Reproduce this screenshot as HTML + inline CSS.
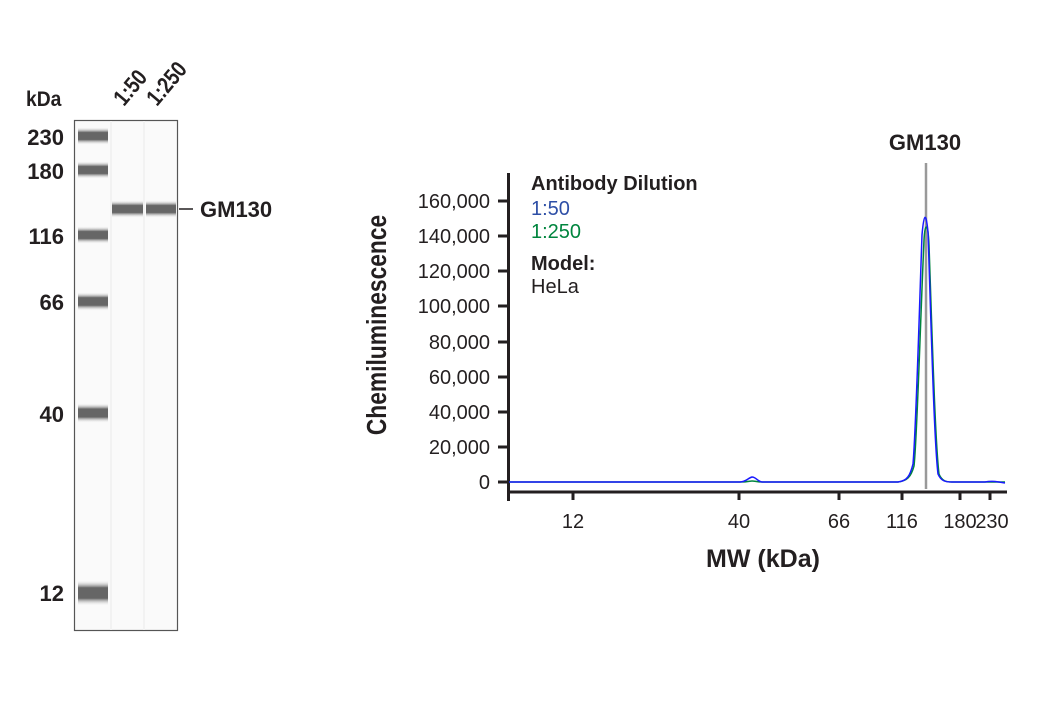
<!DOCTYPE html>
<html><head><meta charset="utf-8"><style>
html,body{margin:0;padding:0;background:#fff}
svg text{font-family:"Liberation Sans Narrow","Liberation Sans",sans-serif;fill:#231f20}
</style></head><body>
<svg width="1040" height="700" viewBox="0 0 1040 700" xmlns="http://www.w3.org/2000/svg">
<defs>
<linearGradient id="bg" x1="0" y1="0" x2="0" y2="1">
<stop offset="0" stop-color="#fff" stop-opacity="0"/>
<stop offset="0.3" stop-color="#666"/>
<stop offset="0.7" stop-color="#666"/>
<stop offset="1" stop-color="#fff" stop-opacity="0"/>
</linearGradient>
</defs>
<text x="26" y="106" font-size="21" font-weight="bold" transform="translate(26,0) scale(0.92,1) translate(-26,0)">kDa</text>
<text transform="translate(124,107) rotate(-50) scale(0.9,1.1)" font-size="21" font-weight="bold">1:50</text>
<text transform="translate(157,107) rotate(-50) scale(0.9,1.1)" font-size="21" font-weight="bold">1:250</text>
<rect x="74.5" y="120.5" width="103" height="510" fill="#fafafa" stroke="#555" stroke-width="1.2"/>
<rect x="110" y="121" width="2" height="509" fill="#f2f2f2"/>
<rect x="143" y="121" width="2" height="509" fill="#f2f2f2"/>
<g fill="url(#bg)">
<rect x="78" y="127" width="30" height="18"/>
<rect x="78" y="161" width="30" height="18"/>
<rect x="78" y="226" width="30" height="18"/>
<rect x="78" y="292" width="30" height="19"/>
<rect x="78" y="403" width="30" height="20"/>
<rect x="78" y="580" width="30" height="26"/>
<rect x="112" y="200" width="31" height="18"/>
<rect x="146" y="200" width="30" height="18"/>
</g>
<g font-size="22" font-weight="bold" text-anchor="end">
<text x="64" y="145">230</text>
<text x="64" y="179">180</text>
<text x="64" y="244">116</text>
<text x="64" y="310">66</text>
<text x="64" y="422">40</text>
<text x="64" y="601">12</text>
</g>
<line x1="179" y1="209" x2="193" y2="209" stroke="#231f20" stroke-width="1.5"/>
<text x="200" y="217" font-size="22" font-weight="bold">GM130</text>

<text transform="translate(386,325) rotate(-90) scale(0.95,1.15)" font-size="24" font-weight="bold" text-anchor="middle">Chemiluminescence</text>
<g stroke="#231f20" stroke-width="3" fill="none">
<path d="M508.5 173 V501 M507 492 H1007"/>
<path d="M498 201 H508 M498 236 H508 M498 271 H508 M498 306 H508 M498 342 H508 M498 377 H508 M498 412 H508 M498 447 H508 M498 482 H508"/>
<path d="M573 492 V500 M739 492 V500 M839 492 V500 M902 492 V500 M960 492 V500 M990 492 V500"/>
</g>
<g font-size="20" text-anchor="end">
<text x="490" y="208">160,000</text>
<text x="490" y="243">140,000</text>
<text x="490" y="278">120,000</text>
<text x="490" y="313">100,000</text>
<text x="490" y="349">80,000</text>
<text x="490" y="384">60,000</text>
<text x="490" y="419">40,000</text>
<text x="490" y="454">20,000</text>
<text x="490" y="489">0</text>
</g>
<g font-size="20" text-anchor="middle">
<text x="573" y="528">12</text>
<text x="739" y="528">40</text>
<text x="839" y="528">66</text>
<text x="902" y="528">116</text>
<text x="960" y="528">180</text>
<text x="992" y="528">230</text>
</g>
<text x="763" y="567" font-size="25" font-weight="bold" text-anchor="middle">MW (kDa)</text>
<text x="531" y="190" font-size="20" font-weight="bold">Antibody Dilution</text>
<text x="531" y="215" font-size="20" style="fill:#2e4fa6">1:50</text>
<text x="531" y="238" font-size="20" style="fill:#00853e">1:250</text>
<text x="531" y="270" font-size="20" font-weight="bold">Model:</text>
<text x="531" y="293" font-size="20">HeLa</text>
<text x="925" y="150" font-size="22" font-weight="bold" text-anchor="middle">GM130</text>
<line x1="926" y1="163" x2="926" y2="489" stroke="#999" stroke-width="2.5"/>
<path d="M509 482 H740 C748 482 750 481 752 481 C755 481 757 482 762 482 H898 C907 481 911 477 914 466 C917 440 920 330 924 240 C925 222 928 222 929 245 C932 330 935 440 939 474 C942 481 946 482 952 482 H1005" fill="none" stroke="#00853e" stroke-width="1.5"/>
<path d="M509 482 H740 C746 482 748 478 752 477 C756 477 757 481 762 482 H898 C907 481 910 476 913 464 C916 430 919 320 922 235 C924 212 926 212 928 232 C931 320 934 440 938 474 C941 481 945 482 952 482 H985 C990 481 994 481 1005 483" fill="none" stroke="#1a1aff" stroke-width="1.5"/>
</svg>
</body></html>
